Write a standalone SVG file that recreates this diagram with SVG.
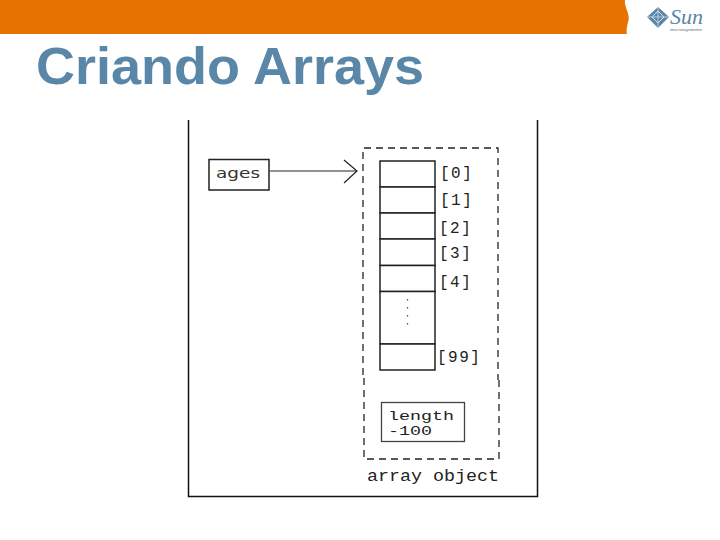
<svg xmlns="http://www.w3.org/2000/svg" width="720" height="540" viewBox="0 0 720 540">
<style>
.t{font-family:"Liberation Mono","DejaVu Sans Mono",monospace;fill:#222}
.i{font-size:16px;letter-spacing:1.5px}
.c{fill:#fff;stroke:#222;stroke-width:1.5}
</style>
<rect width="720" height="540" fill="#fff"/>
<path id="bar" d="M0 0H625C624 8 631 14 628 22C627 27 626 31 627 34H0Z" fill="#e87200"/>
<g id="logo">
<path d="M658 7L669 17L658 28L647 17Z" fill="#5a87a8"/>
<path d="M658 11L664 17L658 23L652 17Z" fill="none" stroke="#d5e0e8" stroke-width="1"/>
<path d="M658 7V28M647 17H669" stroke="#d5e0e8" stroke-width=".8"/>
<text x="670" y="24" font-family="'Liberation Serif',serif" font-style="italic" font-size="22" fill="#5a87a8" textLength="33" lengthAdjust="spacingAndGlyphs">Sun</text>
<text x="670" y="31" font-family="'Liberation Sans',sans-serif" font-size="4" fill="#667" textLength="32" lengthAdjust="spacingAndGlyphs">microsystems</text>
</g>
<text id="title" x="36" y="84" font-family="'Liberation Sans',Arial,sans-serif" font-weight="700" font-size="52" fill="#5a87a8" textLength="388" lengthAdjust="spacingAndGlyphs">Criando Arrays</text>
<g id="frame" fill="none" stroke="#111">
<path d="M188.500 120V496.500H537.500V120" stroke-width="1.500"/>
</g>
<g id="ages">
<rect class="c" x="209" y="159.500" width="60" height="30.500"/>
<text x="216" y="178" font-family="'DejaVu Sans',sans-serif" fill="#333" font-size="14" textLength="44" lengthAdjust="spacingAndGlyphs">ages</text>
</g>
<g id="connectors" fill="none" stroke="#222">
<path d="M270 171H356"/>
<path d="M344 160L357 171L344 183" stroke-width="1.200"/>
</g>
<g id="array-object">
<path d="M363 375V148H498V380M499 380V459H364V375" fill="none" stroke="#222" stroke-width="1.300" stroke-dasharray="7 5"/>
<text class="t" x="367" y="481" font-size="16" textLength="132" lengthAdjust="spacingAndGlyphs">array object</text>
</g>
<g id="cells">
<rect class="c" x="380" y="161" width="55" height="26"/>
<rect class="c" x="380" y="187" width="55" height="26"/>
<rect class="c" x="380" y="213" width="55" height="26"/>
<rect class="c" x="380" y="239" width="55" height="26.500"/>
<rect class="c" x="380" y="265.500" width="55" height="26"/>
<rect class="c" x="380" y="291.500" width="55" height="52.500"/>
<rect class="c" x="380" y="344" width="55" height="26"/>
<path d="M407.500 299V329" stroke="#555" stroke-width="1.300" stroke-dasharray="1.500 6.500" fill="none"/>
</g>
<g id="labels">
<text class="t i" x="440" y="178">[0]</text>
<text class="t i" x="440" y="205">[1]</text>
<text class="t i" x="439" y="233">[2]</text>
<text class="t i" x="439" y="258">[3]</text>
<text class="t i" x="439" y="287">[4]</text>
<text class="t i" x="437" y="362">[99]</text>
</g>
<g id="length">
<rect x="381.500" y="402.500" width="83" height="39" fill="#fff" stroke="#444" stroke-width="1.300"/>
<text class="t" x="388" y="420" font-size="13.500" textLength="66" lengthAdjust="spacingAndGlyphs">length</text>
<text class="t" x="388" y="435" font-size="13.500" textLength="44" lengthAdjust="spacingAndGlyphs">-100</text>
</g>
</svg>
